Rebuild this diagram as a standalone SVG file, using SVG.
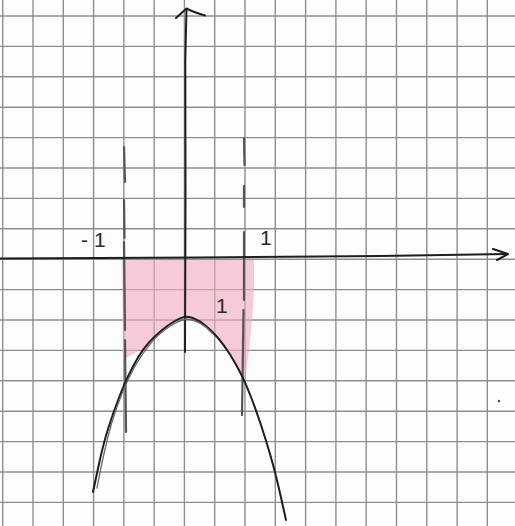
<svg xmlns="http://www.w3.org/2000/svg" width="515" height="526" viewBox="0 0 515 526">
<style>
.grid line{stroke:#8e8e8e;stroke-width:1.4}
.ink{fill:none;stroke:#1e1e1e;stroke-linecap:round;stroke-linejoin:round}
.pencil{fill:none;stroke:#555;stroke-linecap:round;stroke-width:2.2}
.lbl{font-family:"Liberation Sans","DejaVu Sans",sans-serif;font-size:21px;fill:#2a2a2a}
</style>
<rect width="515" height="526" fill="#fdfdfd"/>
<g id="grid" class="grid">
<line x1="2.7" y1="0" x2="2.7" y2="526"/>
<line x1="33" y1="0" x2="33" y2="526"/>
<line x1="63.3" y1="0" x2="63.3" y2="526"/>
<line x1="93.6" y1="0" x2="93.6" y2="526"/>
<line x1="123.9" y1="0" x2="123.9" y2="526"/>
<line x1="154.2" y1="0" x2="154.2" y2="526"/>
<line x1="184.4" y1="0" x2="184.4" y2="526"/>
<line x1="214.7" y1="0" x2="214.7" y2="526"/>
<line x1="245" y1="0" x2="245" y2="526"/>
<line x1="275.3" y1="0" x2="275.3" y2="526"/>
<line x1="305.6" y1="0" x2="305.6" y2="526"/>
<line x1="335.9" y1="0" x2="335.9" y2="526"/>
<line x1="366.2" y1="0" x2="366.2" y2="526"/>
<line x1="396.5" y1="0" x2="396.5" y2="526"/>
<line x1="426.8" y1="0" x2="426.8" y2="526"/>
<line x1="457.1" y1="0" x2="457.1" y2="526"/>
<line x1="487.3" y1="0" x2="487.3" y2="526"/>
<line x1="0" y1="16" x2="515" y2="16"/>
<line x1="0" y1="46.4" x2="515" y2="46.4"/>
<line x1="0" y1="76.8" x2="515" y2="76.8"/>
<line x1="0" y1="107.2" x2="515" y2="107.2"/>
<line x1="0" y1="137.6" x2="515" y2="137.6"/>
<line x1="0" y1="168" x2="515" y2="168"/>
<line x1="0" y1="198.4" x2="515" y2="198.4"/>
<line x1="0" y1="228.8" x2="515" y2="228.8"/>
<line x1="0" y1="259.2" x2="515" y2="259.2"/>
<line x1="0" y1="289.6" x2="515" y2="289.6"/>
<line x1="0" y1="320" x2="515" y2="320"/>
<line x1="0" y1="350.4" x2="515" y2="350.4"/>
<line x1="0" y1="380.8" x2="515" y2="380.8"/>
<line x1="0" y1="411.2" x2="515" y2="411.2"/>
<line x1="0" y1="441.6" x2="515" y2="441.6"/>
<line x1="0" y1="472" x2="515" y2="472"/>
<line x1="0" y1="502.4" x2="515" y2="502.4"/>
</g>
<g id="shading">
<polygon points="122,260 254,260 254,290 252,320 249,350 245,380 241,374 230,354.5 218,338 206,326 194,318.5 184,317 174,321.5 161.5,330.5 149,342.5 140,350 128,357 123,358" fill="#f2a9bd" fill-opacity="0.6"/>
</g>
<g id="dashed-lines">
<path class="pencil" d="M124,147 L125,182 M124,200 L124.5,238 M124,242 L125,330 M125,340 L126,432"/>
<path class="pencil" d="M244,138 L244.5,165 M244,186 L244,207 M244,232 L244,300 M243.5,310 L242,415"/>
</g>
<g id="axes">
<path class="ink" stroke-width="2" d="M0,258.5 L200,257.5 L380,256 L507,254"/>
<path class="ink" stroke-width="2" d="M493,249 L508,254 L497,260"/>
<path class="ink" stroke-width="2" d="M185,352 L185.5,200 L185.3,60 L186.5,9"/>
<path class="ink" stroke-width="2" d="M176,18 L186.5,8.5 Q193,12 205,15.5"/>
</g>
<g id="parabola">
<path class="ink" stroke-width="2" d="M93,492 L98,468.5 Q103,445 108,429 Q113,413 118.5,399 Q124,385 128.5,375.5 Q133,366 138,357.5 Q143,349 149,342.5 Q155,336 161.5,330.5 Q168,325 174,321.5 Q180,318 184,317 Q188,316 194,318.5 Q200,321 206,326 Q212,331 218,338 Q224,345 230,354.5 Q236,364 241,374 Q246,384 251,397 Q256,410 261,425 Q266,440 271,457.5 Q276,475 281,497.5 L286,520"/>
<path fill="none" stroke="#6a6a6a" stroke-width="1.3" stroke-linecap="round" d="M97,488 Q104,450 112,422 Q122,390 134,368 Q150,340 166,329 Q178,320 187,319 Q200,320 212,333"/>
</g>
<g id="labels">
<text class="lbl" x="81" y="247" letter-spacing="6">-1</text>
<text class="lbl" x="260" y="245">1</text>
<text class="lbl" x="216" y="313">1</text>
</g>
<circle cx="499" cy="401" r="1.2" fill="#444"/>
</svg>
